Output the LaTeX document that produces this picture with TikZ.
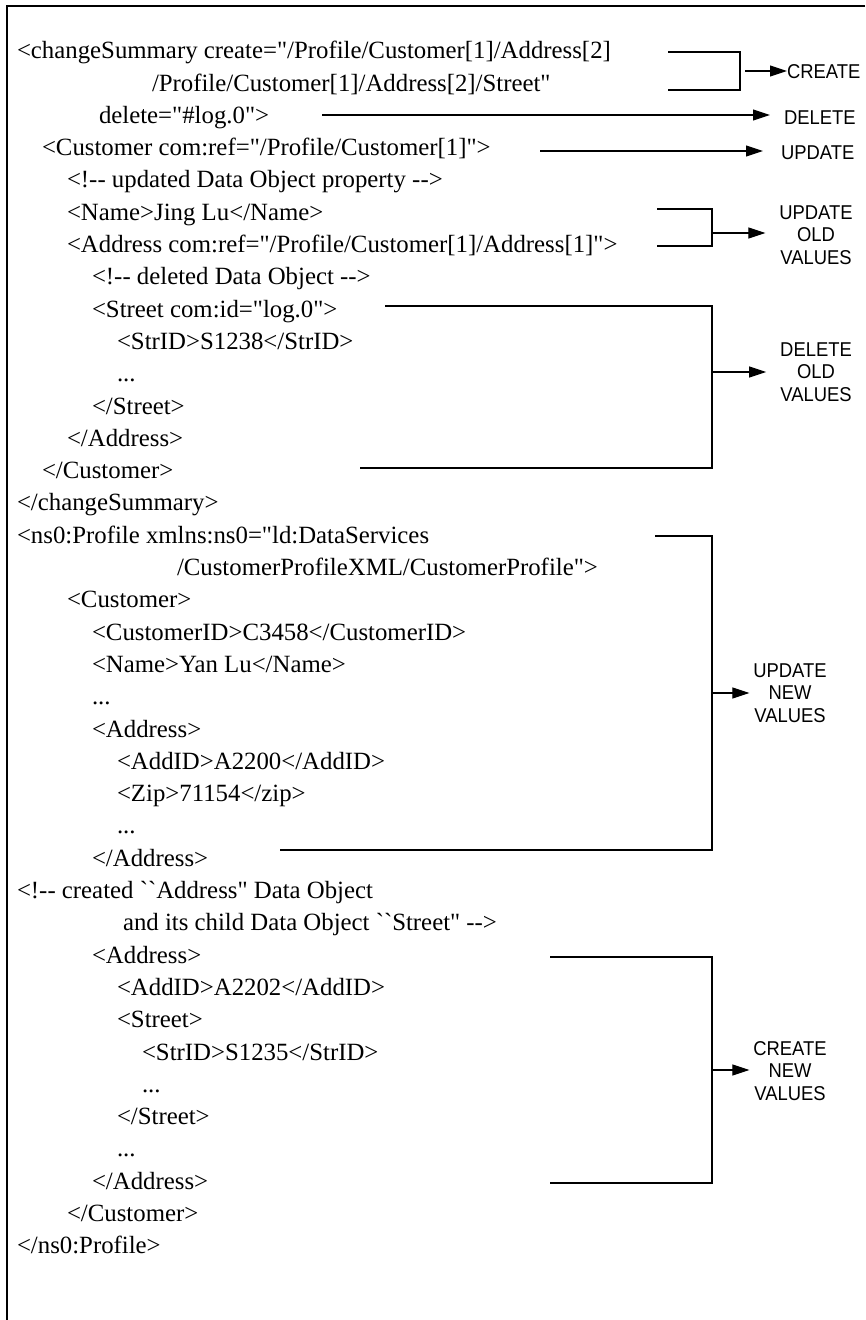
\documentclass[tikz,border=0pt]{standalone}
\usepackage{fontspec}
\newfontfamily\xmlfont{Liberation Serif}[Ligatures=TeXOff]
\newfontfamily\tagfont{Liberation Sans}[FakeStretch=0.92]
\usetikzlibrary{arrows.meta}

\begin{document}
\begin{tikzpicture}[x=1pt, y=-1pt,
  code/.style={anchor=base west, inner sep=0pt, outer sep=0pt,
    font=\xmlfont\fontsize{24.8}{30}\selectfont},
  tag/.style={inner sep=0pt, outer sep=0pt, align=center,
    font=\tagfont\fontsize{20}{22.5}\selectfont},
  link/.style={line width=1.1pt},
  arr/.style={link, -{Triangle[length=17pt,width=11pt]}},
  frame/.style={line width=1.4pt}]

\useasboundingbox (0,0) rectangle (865,1320);

% open frame: top and left edges only
\draw[frame] (865,6) -- (7,6) -- (7,1320);

% ---- change summary ----
\node[code] (t1)  at (17,58.7)   {<changeSummary create="/Profile/Customer[1]/Address[2]};
\node[code] (t2)  at (152,91.0)  {/Profile/Customer[1]/Address[2]/Street"};
\node[code] (t3)  at (99,123.3)  {delete="\#log.0">};
\node[code] (t4)  at (42,155.6)  {<Customer com:ref="/Profile/Customer[1]">};
\node[code] (t5)  at (67,187.9)  {<!-- updated Data Object property -->};
\node[code] (t6)  at (67,220.2)  {<Name>Jing Lu</Name>};
\node[code] (t7)  at (67,252.5)  {<Address com:ref="/Profile/Customer[1]/Address[1]">};
\node[code] (t8)  at (92,284.8)  {<!-- deleted Data Object -->};
\node[code] (t9)  at (92,317.1)  {<Street com:id="log.0">};
\node[code] (t10) at (117,349.4) {<StrID>S1238</StrID>};
\node[code] (t11) at (117,381.7) {...};
\node[code] (t12) at (92,414.0)  {</Street>};
\node[code] (t13) at (67,446.3)  {</Address>};
\node[code] (t14) at (42,478.6)  {</Customer>};
\node[code] (t15) at (17,510.9)  {</changeSummary>};

% ---- current profile ----
\node[code] (t16) at (17,543.2)  {<ns0:Profile xmlns:ns0="ld:DataServices};
\node[code] (t17) at (177,575.5) {/CustomerProfileXML/CustomerProfile">};
\node[code] (t18) at (67,607.8)  {<Customer>};
\node[code] (t19) at (92,640.1)  {<CustomerID>C3458</CustomerID>};
\node[code] (t20) at (92,672.4)  {<Name>Yan Lu</Name>};
\node[code] (t21) at (92,704.7)  {...};
\node[code] (t22) at (92,737.0)  {<Address>};
\node[code] (t23) at (117,769.3) {<AddID>A2200</AddID>};
\node[code] (t24) at (117,801.6) {<Zip>71154</zip>};
\node[code] (t25) at (117,833.9) {...};
\node[code] (t26) at (92,866.2)  {</Address>};
\node[code] (t27) at (17,898.5)  {<!-- created \textasciigrave\textasciigrave Address" Data Object};
\node[code] (t28) at (123,930.8) {and its child Data Object \textasciigrave\textasciigrave Street" -->};
\node[code] (t29) at (92,963.1)  {<Address>};
\node[code] (t30) at (117,995.4) {<AddID>A2202</AddID>};
\node[code] (t31) at (117,1027.7){<Street>};
\node[code] (t32) at (142,1060.0){<StrID>S1235</StrID>};
\node[code] (t33) at (142,1092.3){...};
\node[code] (t34) at (117,1124.6){</Street>};
\node[code] (t35) at (117,1156.9){...};
\node[code] (t36) at (92,1189.2) {</Address>};
\node[code] (t37) at (67,1221.5) {</Customer>};
\node[code] (t38) at (17,1253.8) {</ns0:Profile>};

% ---- right-hand labels ----
\node[tag, anchor=west] (lCreate) at (787,72)  {CREATE};
\node[tag, anchor=west] (lDelete) at (784,118) {DELETE};
\node[tag, anchor=west] (lUpdate) at (781,153) {UPDATE};
\node[tag] (lUOV) at (816,235)  {UPDATE\\OLD\\VALUES};
\node[tag] (lDOV) at (816,372)  {DELETE\\OLD\\VALUES};
\node[tag] (lUNV) at (790,693)  {UPDATE\\NEW\\VALUES};
\node[tag] (lCNV) at (790,1071) {CREATE\\NEW\\VALUES};

% ---- bracket and line end points ----
\coordinate (cA1) at (668,52);
\coordinate (cA2) at (668,90);
\coordinate (cAv) at (740,71);
\coordinate (cAs) at (745,71);
\coordinate (dS)  at (322,115);
\coordinate (uS)  at (540,151);
\coordinate (u1)  at (657,209);
\coordinate (u2)  at (657,246);
\coordinate (uv)  at (712,233);
\coordinate (d1)  at (385,306);
\coordinate (d2)  at (360,468);
\coordinate (dv)  at (712,372);
\coordinate (n1)  at (655,536);
\coordinate (n2)  at (280,850);
\coordinate (nv)  at (712,693);
\coordinate (m1)  at (550,957);
\coordinate (m2)  at (550,1183);
\coordinate (mv)  at (712,1070);

% ---- brackets ----
\draw[link] (cA1) -| (cAv) |- (cA2);
\draw[link] (u1) -| (uv) |- (u2);
\draw[link] (d1) -| (dv) |- (d2);
\draw[link] (n1) -| (nv) |- (n2);
\draw[link] (m1) -| (mv) |- (m2);

% ---- arrows ----
\draw[arr] (cAs) -- (cAs -| lCreate.west);
\draw[arr, shorten >=14pt] (dS) -- (dS -| lDelete.west);
\draw[arr, shorten >=18pt] (uS) -- (uS -| lUpdate.west);
\draw[arr, shorten >=14pt] (uv) -- (uv -| lUOV.west);
\draw[arr, shorten >=14pt] (dv) -- (dv -| lDOV.west);
\draw[arr, shorten >=4pt]  (nv) -- (nv -| lUNV.west);
\draw[arr, shorten >=4pt]  (mv) -- (mv -| lCNV.west);

\end{tikzpicture}
\end{document}
